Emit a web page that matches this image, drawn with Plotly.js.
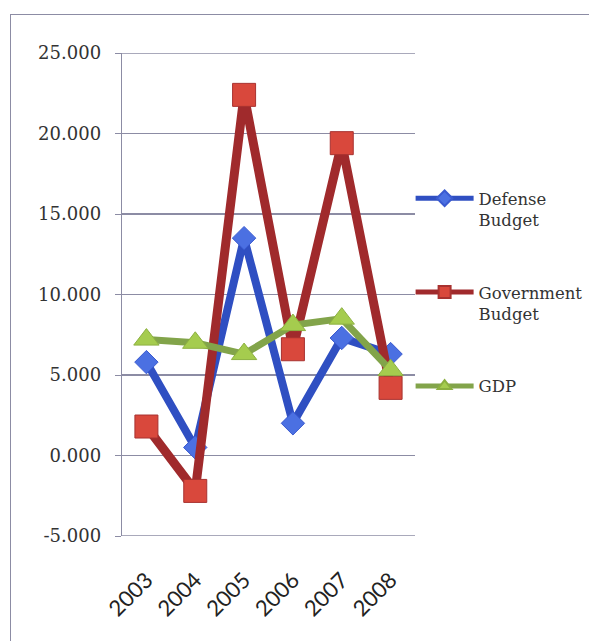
<!DOCTYPE html>
<html>
<head>
<meta charset="utf-8">
<script src="https://cdn.plot.ly/plotly-3.0.1.min.js"></script>
<style>
html,body{margin:0;padding:0;background:#fff;}
#wrap{position:relative;width:589px;height:641px;}
#chart{position:absolute;left:0;top:0;width:589px;height:641px;}
#frame{position:absolute;left:10px;top:14px;right:-2px;bottom:-2px;border-top:1.5px solid #8c8ca4;border-left:1.5px solid #8c8ca4;pointer-events:none;}
</style>
</head>
<body>
<div id="wrap"><div id="chart"></div><div id="frame"></div></div>
<script>
const years = ['2003','2004','2005','2006','2007','2008'];
const defenseBudget = [5.8, 0.5, 13.5, 2.0, 7.3, 6.3];
const governmentBudget = [1.8, -2.2, 22.4, 6.6, 19.4, 4.2];
const gdp = [7.2, 7.0, 6.3, 8.1, 8.5, 5.3];
const seriesNames = ['Defense<br>Budget', 'Government<br>Budget', 'GDP'];
const yTicks = [-5, 0, 5, 10, 15, 20, 25];
const yTickText = yTicks.map(v => v.toFixed(3));

const boundaries = years.map((_, i) => i - 0.5).concat([years.length - 0.5]);
const gridColor = '#8c8ca4';
const yMin = Math.min(...yTicks), yMax = Math.max(...yTicks);

const traces = [
  {x: years, y: defenseBudget, name: seriesNames[0], legendgroup: 'a', mode: 'lines+markers',
   line: {color: '#2f4fc2', width: 8},
   marker: {symbol: 'diamond', size: 18, color: '#4b70e2', line: {color: '#3a5ad0', width: 1}}},
  {x: years, y: governmentBudget, name: seriesNames[1], legendgroup: 'b', mode: 'lines+markers',
   line: {color: '#a02a2c', width: 9},
   marker: {symbol: 'square', size: 23, color: '#d9483c', line: {color: '#a83230', width: 1}}},
  {x: years, y: gdp, name: seriesNames[2], legendgroup: 'c', mode: 'lines+markers',
   line: {color: '#82a44a', width: 7},
   marker: {symbol: 'triangle-up', size: 22, color: '#a5cc4e', line: {color: '#8cb040', width: 1}}}
];

const edgeLines = [yMin, yMax].map(v => ({
  type: 'line', xref: 'paper', yref: 'y', x0: 0, x1: 1, y0: v, y1: v,
  line: {color: gridColor, width: 1.3}, layer: 'below'
}));

const layout = {
  width: 589, height: 641,
  margin: {l: 122, r: 174, t: 53, b: 105, autoexpand: false},
  paper_bgcolor: '#fff', plot_bgcolor: '#fff',
  showlegend: true,
  shapes: edgeLines,
  legend: {x: 0.985, xanchor: 'left', y: 0.735, yanchor: 'top', valign: 'top',
           traceorder: 'grouped', tracegroupgap: 48, itemwidth: 58, itemsizing: 'constant',
           font: {family: 'DejaVu Serif', size: 16.5, color: '#333'}, bgcolor: 'rgba(0,0,0,0)'},
  xaxis: {type: 'category', categoryorder: 'array', categoryarray: years, range: [-0.5, 5.5],
          showgrid: false, zeroline: false, showline: false, ticks: '',
          tickangle: -45, ticklabelstandoff: 26,
          tickfont: {family: 'Lato', size: 22, color: '#222'}},
  xaxis2: {overlaying: 'x', anchor: 'free', position: 1/6, side: 'bottom', range: [-0.5, 5.5],
           tickmode: 'array', tickvals: boundaries, showticklabels: false,
           ticks: 'outside', ticklen: 8, tickwidth: 1.5, tickcolor: '#7c7c94',
           showline: true, linecolor: '#7c7c94', linewidth: 1.5, showgrid: false, zeroline: false},
  xaxis3: {overlaying: 'x', anchor: 'free', position: 1/6, side: 'top', range: [-0.5, 5.5],
           tickmode: 'array', tickvals: boundaries, showticklabels: false,
           ticks: 'outside', ticklen: 8, tickwidth: 1.5, tickcolor: '#7c7c94',
           showline: false, showgrid: false, zeroline: false},
  yaxis: {range: [-5, 25], tickmode: 'array', tickvals: yTicks, ticktext: yTickText,
          showgrid: true, gridcolor: gridColor, gridwidth: 1.3, zeroline: false,
          showline: true, linecolor: gridColor, linewidth: 1.3,
          ticks: 'outside', ticklen: 6, tickcolor: gridColor, ticklabelstandoff: 10,
          tickfont: {family: 'DejaVu Serif', size: 18, color: '#333'}}
};

Plotly.newPlot('chart', traces, layout, {staticPlot: true, displayModeBar: false});
</script>
</body>
</html>
